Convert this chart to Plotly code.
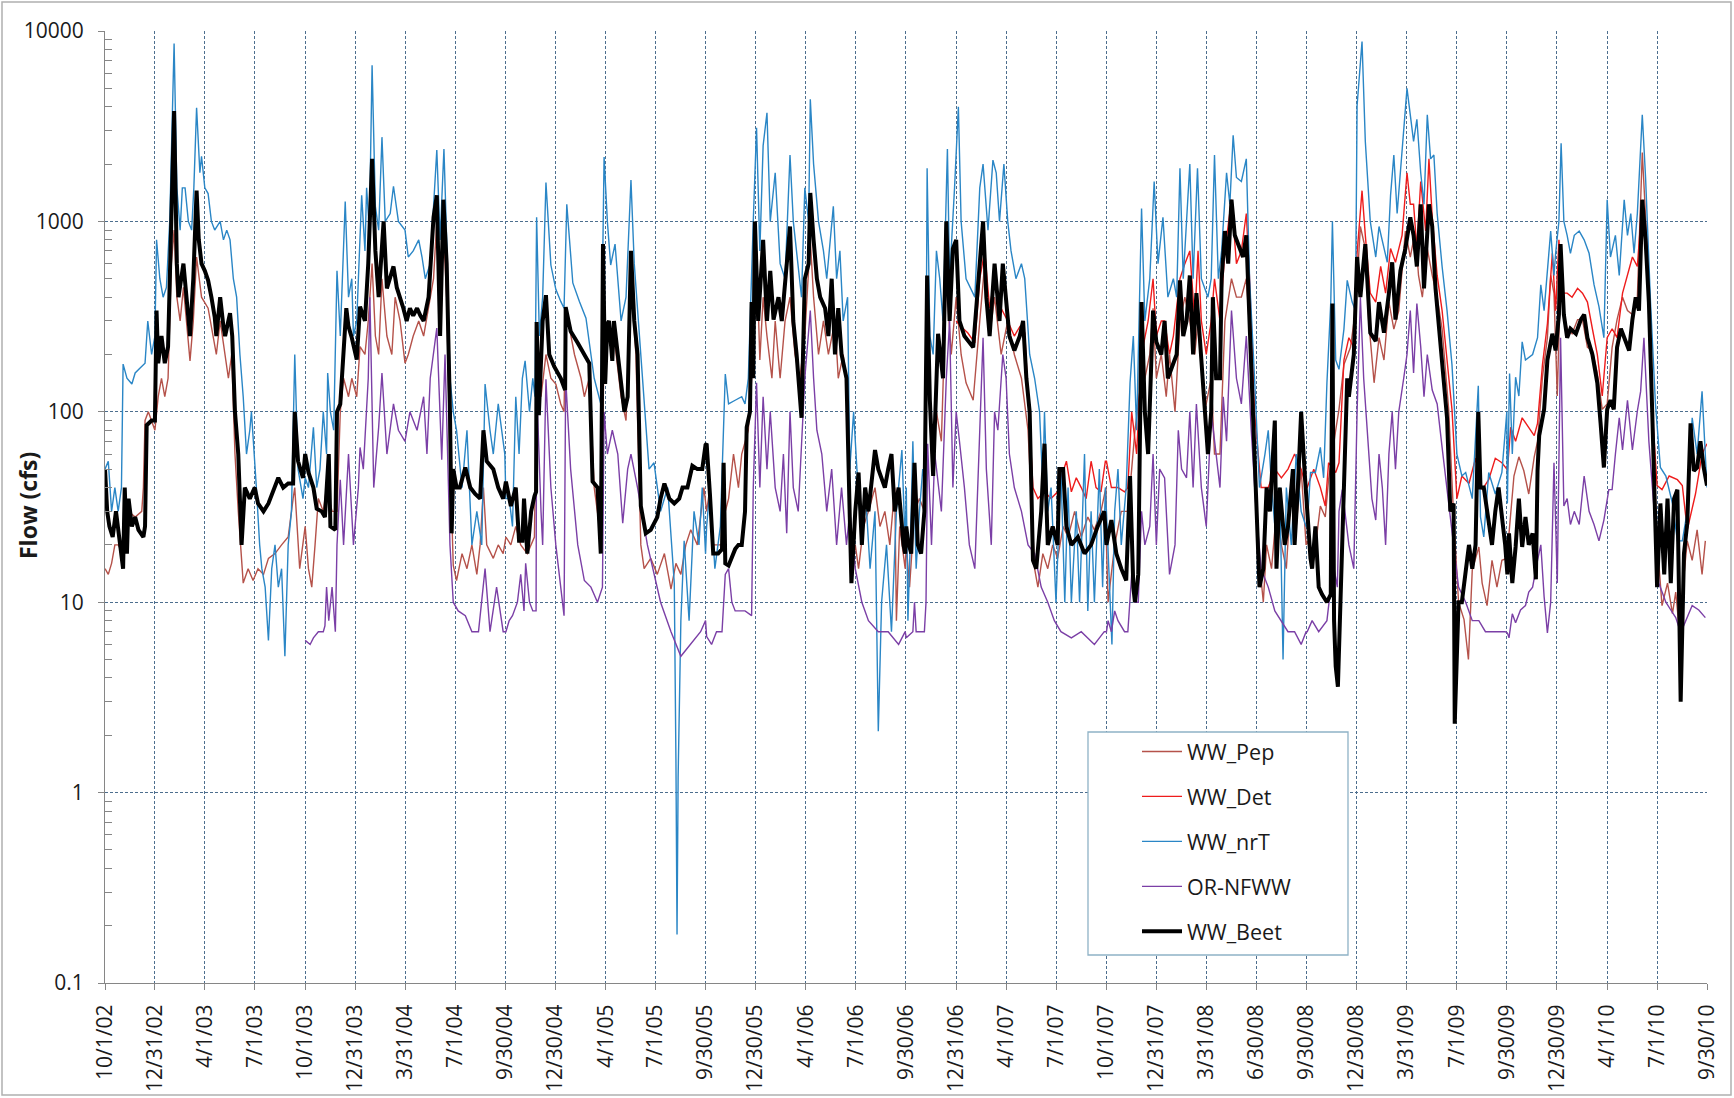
import numpy as np
import pandas as pd
import plotly.graph_objects as go

# ---------------- data (day within water year, flow in cfs) ----------------
water_years = [2003, 2004, 2005, 2006, 2007, 2008, 2009, 2010]

# WW_Beet
beet_2003_d = [0,4,8,14,20,33,36,40,43,49,55,61,70,73,76,85,91,94,97,103,109,115,120,126,131,134,143,149,155,161,167,171,176,182,188,194,200,203,210,216,219,228,232,237,243,249,252,255,264,273,279,289,298,307,316,325,334,343,346,352,361]
beet_2003_v = [50,30,25,22,30,15,40,18,35,25,28,24,22,25,85,90,90,340,180,250,180,220,800,3800,600,400,600,400,250,500,1450,800,600,550,490,400,315,250,400,280,250,330,250,100,60,20,30,40,35,40,33,30,33,38,45,40,42,42,100,55,45]
beet_2004_d = [0,6,15,21,30,36,43,46,55,58,64,70,75,79,85,94,100,109,115,122,128,134,138,143,149,155,161,167,173,179,185,191,197,204,210,216,225,234,240,246,252,258,264,267,270,276,282,292,301,310,319,325,331,343,352,361]
beet_2004_v = [60,48,40,31,30,28,60,25,24,100,110,200,350,280,245,188,357,300,600,2130,700,400,600,1000,445,500,580,450,400,350,300,350,320,350,320,300,400,1050,1370,250,1300,600,100,23,50,40,40,51,40,37,35,80,55,50,40,35]
beet_2005_d = [0,9,18,24,30,33,39,46,52,55,56,60,67,73,79,88,100,108,109,118,131,143,152,158,167,173,177,181,185,188,194,197,204,210,216,222,228,234,240,246,255,264,276,282,289,298,307,316,322,331,340,349,358,364]
beet_2005_v = [43,32,40,21,21,35,18,30,36,38,296,96,300,410,200,173,150,130,355,265,230,200,180,43,40,18,760,140,290,300,185,300,200,150,100,120,700,300,200,32,23,24,28,35,42,35,33,35,40,40,52,50,50,67]
beet_2006_d = [1,7,13,22,29,32,35,41,47,53,59,65,71,74,80,83,86,89,95,104,111,117,123,132,138,144,153,159,165,174,180,187,190,196,202,208,217,223,229,235,241,247,256,262,265,272,278,284,290,296,308,314,326,332,338,344,351,360,363]
beet_2006_v = [68,37,18,18,19,54,16,15.6,17,19,20,20,30,83,100,377,150,1000,300,800,300,550,305,400,300,500,940,300,200,93,500,600,1410,800,500,400,350,250,500,200,350,200,150,28,12.6,30,48,20,40,30,63,50,40,50,60,30,40,20,18]
beet_2007_d = [0,3,9,15,21,27,33,38,43,49,58,67,73,79,85,91,97,106,122,134,140,146,152,161,170,176,188,197,207,213,219,225,231,237,246,252,258,267,276,279,286,292,301,313,325,337,349,361]
beet_2007_v = [25,21,18,54,20,18,30,520,115,46,257,150,1000,300,720,800,300,250,218,580,1000,400,250,600,300,600,250,210,250,300,150,100,16.6,15,30,68,20,25,20,50,50,25,20,22,18,20,25,30]
beet_2008_d = [0,9,18,27,36,43,49,52,58,64,70,76,85,91,100,106,112,122,128,134,140,146,152,158,164,170,179,185,191,194,200,207,210,216,222,228,234,240,249,255,261,267,276,279,286,292,298,307,310,316,325,331,340,343,349,355,361]
beet_2008_v = [20,27,18,15,13,46,12,10,14,377,100,60,340,233,200,300,150,180,200,490,250,300,520,200,420,250,100,60,100,400,150,150,500,890,600,1300,845,760,650,845,300,100,20,12,15,40,30,90,15,40,20,25,50,20,40,100,50]
beet_2009_d = [0,6,9,15,21,27,36,43,46,49,52,56,73,76,85,91,97,106,115,125,131,140,149,155,161,170,179,188,194,200,207,213,222,228,234,246,255,261,267,269,276,282,289,295,301,307,312,316,322,331,337,343,349,361]
beet_2009_v = [28,17,15,25,12,11,10,11,370,8,4.6,3.6,150,120,200,650,400,760,260,235,377,260,420,610,305,550,720,1050,845,580,1230,445,1230,940,445,187,93,30,33,2.3,10,10,15,20,15,20,100,40,40,25,20,30,40,20]
beet_2010_d = [0,3,9,15,21,27,33,39,46,52,55,58,67,73,82,88,94,97,103,109,115,125,134,140,146,155,164,170,176,182,188,194,200,207,216,222,228,234,240,246,252,258,264,270,273,279,286,292,298,304,310,316,322,328,334,340,346,352,358,364]
beet_2010_v = [14,23,12.6,19.5,35,19.5,28,20,23,13.2,49,75,103,187,257,210,324,760,324,245,273,257,305,324,245,200,142,87,51,103,115,103,218,273,233,210,305,400,340,1300,800,377,103,24,12,33,14,35,12.6,35,39,3,18,26,87,49,51,70,51,41]

# WW_nrT
nrt_2003_d = [0,6,12,18,24,30,33,40,49,55,64,73,78,85,91,94,100,106,112,118,126,131,137,141,146,152,158,162,167,173,176,182,188,194,200,210,216,222,228,234,240,246,252,258,264,267,276,282,286,292,298,304,310,316,322,328,334,340,346,352,361]
nrt_2003_v = [50,55,30,40,30,40,178,150,140,160,170,180,300,200,250,800,500,400,450,1000,8600,1500,900,1500,1500,1000,900,1500,3950,1800,2200,1500,1400,1000,900,1000,800,900,800,500,400,200,120,60,80,100,40,20,15,12,6.3,15,20,12,15,5.2,20,30,200,50,35]
nrt_2004_d = [0,6,15,21,27,33,39,41,46,52,58,64,73,79,85,88,94,103,109,112,117,122,128,134,140,146,155,161,170,182,188,197,207,213,219,228,234,240,246,253,258,264,270,276,286,295,304,313,322,328,337,343,352,358,364]
nrt_2004_v = [45,40,83,40,50,100,60,160,100,80,550,250,1270,400,500,250,300,1370,700,1500,900,6600,1200,900,2770,1000,1100,1530,1000,900,650,700,800,650,500,600,1200,2370,800,2400,800,150,100,80,40,80,20,30,20,140,80,60,110,80,60]
nrt_2005_d = [0,6,12,18,24,30,35,43,49,53,56,61,67,73,82,91,100,106,111,122,134,146,155,161,173,179,185,191,199,210,219,228,234,246,255,261,270,282,295,307,310,312,314,319,325,334,343,352,358,364]
nrt_2005_v = [35,35,25,120,60,150,185,100,150,120,1050,250,400,1600,590,440,380,350,1230,475,380,310,200,150,110,2180,1000,590,760,300,400,1650,600,200,80,50,54,30,40,12.6,1.5,0.18,1.2,8,21,8,30,20,40,18]
nrt_2006_d = [1,7,16,26,35,41,53,65,71,77,86,92,98,104,111,117,126,135,144,153,159,168,174,180,187,190,196,205,214,220,226,232,238,244,250,258,262,269,275,284,290,299,308,314,320,329,338,347,357,363]
nrt_2006_v = [25,40,15,25,158,110,115,120,110,150,1000,3100,700,2500,3720,1000,1800,600,500,2230,1000,600,400,1500,1000,4380,2000,1000,700,500,800,1200,500,700,300,400,50,100,50,20,40,15,30,2.1,10,20,7,30,63,20]
nrt_2007_d = [0,3,9,12,18,24,30,35,38,43,49,55,61,67,75,79,88,95,100,109,125,134,140,149,158,164,170,178,185,191,200,210,216,225,234,243,249,252,258,264,273,282,289,295,301,310,316,325,331,337,343,352,358,363]
nrt_2007_v = [40,8,30,70,15,30,50,40,1900,250,200,700,500,300,2400,500,1500,4000,1000,500,400,1500,2000,900,2100,1800,1000,2000,1000,700,500,600,500,200,150,100,40,100,30,40,10,50,10,40,10,30,10,60,9,30,10,50,12,40]
nrt_2008_d = [0,6,10,15,21,27,36,43,49,55,64,70,79,87,94,103,112,122,128,134,140,152,158,166,173,185,191,197,204,210,219,225,231,237,246,255,261,270,279,289,295,301,310,316,322,328,337,346,355,364]
nrt_2008_v = [30,10,6,30,50,20,40,142,250,80,1170,300,500,1620,600,1050,400,500,400,1900,500,2000,500,1900,500,400,500,2230,500,700,1800,1230,2830,1700,1620,2130,500,150,40,60,80,40,20,40,5,40,20,60,30,25]
nrt_2009_d = [0,6,15,24,30,36,43,46,52,58,67,73,82,88,91,100,106,115,125,131,140,146,152,158,164,170,176,182,188,194,200,207,213,219,225,231,237,246,255,264,273,282,289,301,312,316,322,331,343,355,364]
nrt_2009_v = [25,48,48,65,45,142,377,1000,187,167,272,490,377,340,4050,8800,2630,1000,650,940,720,610,1370,2230,1100,1800,2770,5000,3630,2630,3440,1800,1230,3630,2130,2230,1100,580,340,177,60,46,48,35,137,28,22,48,37,48,100]
nrt_2010_d = [0,4,9,15,21,27,33,46,55,61,67,79,85,88,94,98,103,109,115,122,131,140,149,158,167,176,182,188,197,204,213,219,225,231,237,246,252,261,270,279,289,301,310,319,328,337,346,355,361,364]
nrt_2010_v = [33,159,60,152,121,233,187,200,245,465,340,890,520,680,1000,2570,1000,845,680,845,890,800,680,465,357,245,1300,650,845,520,1300,845,1100,680,1100,3630,1700,377,110,51,46,33,21,21,30,93,60,128,63,40]

# WW_Pep
pep_2003_d = [0,6,12,18,24,33,43,55,67,70,73,79,91,97,103,109,115,121,126,131,137,143,155,161,167,176,188,197,203,210,219,225,231,237,243,252,261,270,279,289,298,310,322,334,343,346,355,361]
pep_2003_v = [15,14,16,20,20,18,30,28,30,40,90,100,80,120,150,120,150,600,900,400,300,450,185,300,650,400,350,250,200,300,200,150,200,60,30,12.6,15,13,15,14,17,18,20,22,35,40,15,20]
pep_2004_d = [0,6,12,18,24,33,39,49,58,64,70,79,85,94,100,109,115,122,128,134,140,149,158,164,173,182,188,197,207,216,225,234,240,246,252,258,264,270,276,286,295,304,313,319,325,331,343,352,361]
pep_2004_v = [25,15,12,20,35,30,40,30,30,100,150,120,150,120,220,200,300,600,250,200,500,250,200,400,300,180,200,250,300,250,350,500,1000,300,900,400,60,15.6,13,18,15,20,14,20,40,20,17,20,18]
pep_2005_d = [0,9,18,27,39,52,56,64,73,82,91,100,106,109,125,137,143,152,161,173,179,188,197,210,219,228,237,246,252,264,276,289,301,310,319,328,337,349,361]
pep_2005_v = [22,20,25,20,18,22,138,120,200,150,140,110,100,350,200,150,120,150,40,22,200,250,250,120,90,500,200,20,15,17,14,18,11.7,16,14,20,24,20,40]
pep_2006_d = [1,7,13,29,35,41,50,59,65,77,86,92,98,104,111,120,126,135,144,153,162,171,180,190,196,205,214,223,235,241,250,256,265,272,278,287,296,308,317,326,335,344,347,353,363]
pep_2006_v = [30,40,20,20,30,35,60,40,60,80,200,700,187,400,250,150,300,150,300,400,200,150,250,800,400,200,300,200,300,150,200,142,15,20,15,25,30,40,25,30,20,40,8,25,15]
pep_2007_d = [0,6,15,24,33,38,46,55,64,73,82,91,100,109,122,134,143,152,161,173,185,197,210,222,234,240,249,258,267,276,286,295,307,319,331,343,355,364]
pep_2007_v = [20,12,30,35,30,300,60,100,70,500,200,400,200,142,115,300,600,250,400,200,300,200,150,80,15,12,18,15,20,17,25,22,30,22,28,24,30,40]
pep_2008_d = [0,3,15,27,39,46,52,64,70,79,85,91,100,109,115,125,134,143,152,161,167,179,191,197,207,216,228,237,246,255,264,276,286,292,301,310,319,328,337,346,355,364]
pep_2008_v = [20,10,20,30,30,50,80,150,150,200,350,150,200,120,200,100,300,400,300,200,300,100,150,60,60,300,500,400,400,500,200,20,10,20,15,30,20,15,40,25,50,20]
pep_2009_d = [0,12,24,33,39,52,58,67,79,88,97,106,112,122,131,140,149,158,167,179,188,197,203,210,219,228,237,246,258,267,276,286,294,301,313,319,328,337,346,355,364]
pep_2009_v = [21,16.6,32,28,44,80,103,177,218,340,940,720,305,142,245,187,377,272,340,890,650,890,520,400,720,520,400,272,103,28,10,8.1,5,14.8,19.5,12.6,9.6,16.6,12,16.6,17]
pep_2010_d = [0,3,12,21,30,39,49,55,64,73,79,85,91,97,103,109,118,128,137,146,155,164,173,182,191,200,210,219,228,237,246,255,264,273,282,292,301,307,313,322,328,337,346,355,361]
pep_2010_v = [15,23,46,58,49,37,58,70,152,245,520,420,121,520,324,273,257,305,305,218,210,159,103,110,218,305,400,340,324,400,2300,720,93,21,9.6,12.6,8.7,11.3,7.4,13.2,21,16.6,24,14,21]

# WW_Det (record begins in WY2007)
det_2007_d = [91,100,112,125,134,143,152,161,173,185,197,207,216,225,231,240,252,264,276,282,292,301,310,319,328,337,346,355,363]
det_2007_v = [300,280,260,230,500,700,350,500,350,300,250,280,260,90,40,35,38,35,38,45,55,38,45,40,35,55,40,38,55]
det_2008_d = [0,9,21,33,39,46,55,64,76,85,91,100,106,115,122,134,143,152,161,167,173,182,191,197,207,216,228,237,246,255,261,270,282,295,307,319,331,343,355,364]
det_2008_v = [55,40,40,38,40,100,60,200,300,500,250,300,300,200,250,500,600,700,300,700,300,200,300,500,300,700,1300,600,700,1100,500,100,40,40,50,45,50,60,50,40]
det_2009_d = [0,12,24,33,39,52,58,67,76,85,91,100,106,115,125,134,143,152,161,173,182,188,194,200,207,216,222,228,237,246,255,264,273,282,295,307,319,331,343,355,364]
det_2009_v = [40,50,40,32,54,48,54,187,245,218,680,1450,845,420,377,580,420,720,610,845,1800,1230,1230,720,1620,890,2130,1050,520,340,187,103,35,46,42,57,39,44,57,54,50]
det_2010_d = [0,6,15,27,39,49,55,64,73,82,88,94,100,109,118,128,137,146,155,164,173,182,191,200,210,219,228,237,246,255,264,273,282,295,310,319,328,343,355,364]
det_2010_v = [49,83,70,93,83,75,87,177,290,680,340,800,420,420,400,445,420,377,273,200,121,245,273,245,420,520,650,580,1300,720,103,41,39,46,44,41,24,37,60,68]

# OR-NFWW (record begins in WY2004)
nfww_2004_d = [0,9,15,24,33,36,39,43,49,55,58,64,70,79,88,97,100,106,115,118,125,134,140,149,161,170,182,191,204,216,222,228,240,249,255,264,270,279,292,304,316,328,337,349,361]
nfww_2004_v = [6.3,6,6.5,7,7,7.5,12,8,12,7,20,44,20,60,20,40,65,50,150,400,40,83,160,60,110,80,70,100,80,120,60,150,275,56,200,20,10,9,8.5,7,7,15,7,12,7]
nfww_2005_d = [0,6,12,21,27,33,36,43,49,55,56,64,67,73,82,91,100,106,109,118,131,143,155,167,176,179,185,194,204,213,222,228,240,258,282,301,319,337,355,364]
nfww_2005_v = [7,8,8.5,10,14,9,16,10,9,9,138,30,20,148,40,20,12,8.5,150,50,20,13,12,10,12,100,60,80,60,26,50,60,40,20,10,7,5.2,6,7,8]
nfww_2006_d = [1,10,19,29,32,35,41,47,53,71,83,86,92,98,104,111,117,126,135,141,147,153,159,168,180,190,196,202,211,220,229,238,247,256,262,272,284,296,314,332,351,363]
nfww_2006_v = [6.6,6,7,7,10,14,15,10,9,9,8.5,40,142,40,120,50,100,40,30,60,23,100,40,30,150,340,150,80,60,30,50,20,40,20,30,15,10,8,7,7,6,7]
nfww_2007_d = [0,12,15,18,33,36,39,46,52,64,73,79,85,91,97,106,115,125,134,140,146,155,161,167,176,182,188,197,210,222,234,246,258,270,282,301,319,343,361]
nfww_2007_v = [6.5,7,10,7,7,10,68,20,60,30,150,300,40,100,70,40,20,15,80,245,50,20,100,80,200,150,60,40,30,20,18,12,10,8,7,6.5,7,6,7]
nfww_2008_d = [0,3,9,15,21,33,39,46,52,58,64,70,79,85,91,97,106,115,125,131,137,146,152,158,164,173,182,191,200,207,213,219,228,237,246,255,264,273,282,295,307,319,331,343,355,364]
nfww_2008_v = [7,8,7,9,8,7,7,14,10,10,30,20,25,60,20,50,45,14,20,80,50,45,100,40,110,40,25,100,60,40,120,70,340,150,110,250,80,30,15,12,9,8,7,7,6,7]
nfww_2009_d = [0,9,21,36,43,49,55,58,64,76,85,91,97,103,109,118,125,131,137,143,149,155,161,167,176,182,188,194,200,207,213,219,228,237,246,255,267,276,289,301,313,325,343,361]
nfww_2009_v = [7,8,7,8,12,15,12,30,39,20,15,100,400,150,83,35,27,60,40,20,60,100,50,100,150,200,340,160,370,220,120,200,130,110,65,40,20,12,10,8,8,7,7,7]
nfww_2010_d = [0,3,9,15,24,33,39,46,55,61,67,73,79,85,91,97,103,109,115,122,131,140,149,158,167,176,185,191,197,204,210,219,228,237,243,249,258,267,276,289,298,307,316,328,337,349,361]
nfww_2010_v = [6.9,6.5,8.7,7.8,9.1,9.6,11.3,12,16.6,20,10.7,6.9,10,54,12.6,245,32,35,25.6,30,25.6,46,30,25.6,21,27,39,39,60,93,63,115,63,101,128,245,70,32,12.6,10,9.1,8.3,6.9,8.3,9.6,9.1,8.3]

x_tick_labels = ["10/1/02", "12/31/02", "4/1/03", "7/1/03", "10/1/03", "12/31/03", "3/31/04",
                 "7/1/04", "9/30/04", "12/30/04", "4/1/05", "7/1/05", "9/30/05", "12/30/05",
                 "4/1/06", "7/1/06", "9/30/06", "12/31/06", "4/1/07", "7/1/07", "10/1/07",
                 "12/31/07", "3/31/08", "6/30/08", "9/30/08", "12/30/08", "3/31/09", "7/1/09",
                 "9/30/09", "12/30/09", "4/1/10", "7/1/10", "9/30/10"]
y_tick_values = [0.1, 1, 10, 100, 1000, 10000]
y_tick_labels = ["0.1", "1", "10", "100", "1000", "10000"]

series_names = ["WW_Pep", "WW_Det", "WW_nrT", "OR-NFWW", "WW_Beet"]
series_prefix = ["pep", "det", "nrt", "nfww", "beet"]

# ---------------- build series ----------------
g = globals()


def build(prefix):
    dates, vals = [], []
    for wy in water_years:
        dk, vk = f"{prefix}_{wy}_d", f"{prefix}_{wy}_v"
        if dk not in g:
            continue
        d, v = g[dk], g[vk]
        assert len(d) == len(v), (dk, len(d), len(v))
        base = pd.Timestamp(f"{wy - 1}-10-01")
        dates += list(base + pd.to_timedelta(d, unit="D"))
        vals += list(v)
    return dates, vals


styles = {
    "pep": dict(color="#b5524a", width=1.4),
    "det": dict(color="#ee1c1c", width=1.4),
    "nrt": dict(color="#2a86c6", width=1.4),
    "nfww": dict(color="#7b3fa6", width=1.4),
    "beet": dict(color="#000000", width=4),
}

FONT = "Open Sans, Calibri, Arial, sans-serif"
fig = go.Figure()
for name, pre in zip(series_names, series_prefix):
    x, y = build(pre)
    fig.add_trace(go.Scatter(x=x, y=y, mode="lines", name=name, legendgroup=name,
                             line=dict(color=styles[pre]["color"], width=styles[pre]["width"])))

# ---------------- layout ----------------
W, H = 1734, 1098
L, R, T, B = 105, 27, 31, 115
pw, ph = W - L - R, H - T - B


def px(X):
    return (X - L) / pw


def py(Y):
    return (H - B - Y) / ph


tick_dates = [pd.to_datetime(s, format="%m/%d/%y") for s in x_tick_labels]
minor_vals = [m * 10.0 ** k for k in range(-1, 4) for m in range(2, 10)]
grid = dict(showgrid=True, gridcolor="#4d6e8e", gridwidth=1, griddash="3px,2px")

fig.update_layout(
    width=W, height=H,
    margin=dict(l=L, r=R, t=T, b=B, autoexpand=False),
    paper_bgcolor="white", plot_bgcolor="white",
    font=dict(family=FONT, size=21, color="#1a1a1a"),
    showlegend=True,
    legend=dict(x=px(1137), y=py(731), xanchor="left", yanchor="top",
                bgcolor="rgba(0,0,0,0)", borderwidth=0, tracegroupgap=14,
                itemwidth=40, font=dict(family=FONT, size=21.5, color="#1a1a1a")),
    xaxis=dict(type="date", range=[tick_dates[0], tick_dates[-1]],
               tickmode="array", tickvals=tick_dates, ticktext=x_tick_labels,
               tickangle=-90, ticks="outside", ticklen=6, tickcolor="#868686",
               showline=True, linecolor="#868686", linewidth=1.2, zeroline=False,
               ticklabelstandoff=6, automargin=False,
               tickfont=dict(family=FONT, size=21, color="#1a1a1a"), **grid),
    yaxis=dict(type="log", range=[-1, 4], tickmode="array", tickvals=y_tick_values,
               ticktext=y_tick_labels, ticks="outside", ticklen=6, tickcolor="#868686",
               showline=True, linecolor="#868686", linewidth=1.2, zeroline=False,
               ticklabelstandoff=10, automargin=False,
               minor=dict(tickmode="array", tickvals=minor_vals, ticks="inside",
                          ticklen=7, tickcolor="#868686", showgrid=False),
               tickfont=dict(family=FONT, size=21, color="#1a1a1a"), **grid),
    shapes=[
        # outer chart border
        dict(type="rect", xref="paper", yref="paper", x0=px(2), x1=px(1731), y0=py(1095), y1=py(2),
             line=dict(color="#b0b0b0", width=1.5), fillcolor="rgba(0,0,0,0)", layer="below"),
        # legend frame
        dict(type="rect", xref="paper", yref="paper", x0=px(1088), x1=px(1348), y0=py(955), y1=py(732),
             line=dict(color="#8fb2c6", width=1.3), fillcolor="white", layer="above"),
    ],
    annotations=[
        dict(text="<b>Flow (cfs)</b>", xref="paper", yref="paper", x=px(28), y=py(506),
             xanchor="center", yanchor="middle",
             textangle=-90, showarrow=False, font=dict(family=FONT, size=23, color="#1a1a1a"))
    ],
)

fig.write_html("out.html", config={"displayModeBar": False},
               post_script="document.body.style.margin='0';document.body.style.overflow='hidden';")
